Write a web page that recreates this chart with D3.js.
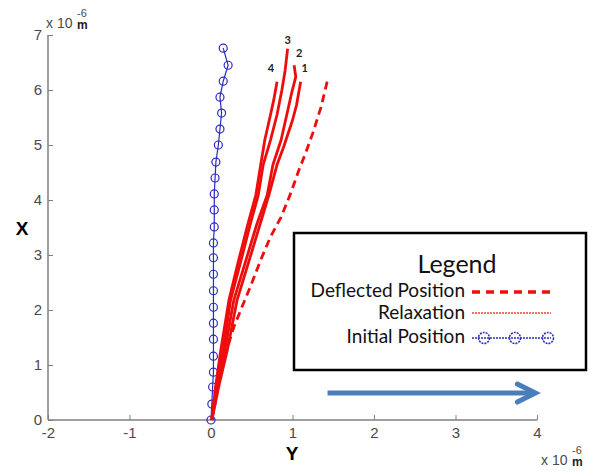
<!DOCTYPE html>
<html><head><meta charset="utf-8">
<script src="https://cdn.jsdelivr.net/npm/d3@7/dist/d3.min.js"></script>
<style>body{margin:0;background:#fff}svg{display:block}</style>
</head><body><svg id="c" width="601" height="472"></svg>
<script>
// ---- data (units of 1e-6 m) ----
const xTicks = [0,1,2,3,4,5,6,7];
const yTicks = [-2,-1,0,1,2,3,4];
const initialY = [0,0.01,0.02,0.03,0.03,0.03,0.03,0.03,0.03,0.03,0.03,0.03,0.04,0.04,0.04,0.05,0.06,0.09,0.11,0.13,0.11,0.15,0.21,0.15];
const initialX = [0,0.29,0.6,0.87,1.16,1.47,1.76,2.05,2.35,2.65,2.95,3.22,3.51,3.82,4.11,4.4,4.69,5.0,5.29,5.58,5.87,6.16,6.45,6.76];
const deflY = [0.01,0.06,0.12,0.2,0.28,0.39,0.49,0.61,0.73,0.86,0.98,1.07,1.16,1.25,1.35,1.43];
const deflX = [0,0.64,1.0,1.31,1.69,2.09,2.45,2.91,3.33,3.69,4.13,4.51,4.85,5.22,5.69,6.18];
const relax1Y = [0.01,0.10,0.20,0.32,0.47,0.60,0.71,0.81,0.89,1.0,1.05,1.10];
const relax1X = [0,0.64,1.27,2.18,2.91,3.55,4.09,4.64,4.96,5.45,5.73,6.15];
const relax2Y = [0.01,0.09,0.17,0.28,0.43,0.56,0.69,0.76,0.86,0.93,0.99,1.04,1.02];
const relax2X = [0,0.64,1.27,2.18,2.91,3.55,4.09,4.64,5.09,5.55,5.95,6.24,6.45];
const relax3Y = [0.01,0.07,0.15,0.24,0.37,0.48,0.58,0.64,0.73,0.81,0.87,0.91,0.94];
const relax3X = [0,0.64,1.27,2.18,2.91,3.55,4.09,4.64,5.09,5.55,6.0,6.36,6.75];
const relax4Y = [0.01,0.06,0.12,0.22,0.34,0.45,0.55,0.61,0.66,0.73,0.77,0.81];
const relax4X = [0,0.64,1.27,2.18,2.91,3.55,4.09,4.64,5.09,5.55,5.82,6.15];
const relaxLabels = ["1","2","3","4"];
const legendLabels = ["Deflected Position","Relaxation","Initial Position"];
const arrowY = [1.43, 3.98]; // horizontal arrow extent in Y units
const arrowX = 0.49;

const svg = d3.select("#c");
const x = d3.scaleLinear().domain([-2,4]).range([48,537]);
const y = d3.scaleLinear().domain([0,7]).range([420,35]);
const axisColor = "#7f7f7f";
const font = "'Liberation Sans', Arial, sans-serif";

// axes
const gx = svg.append("g").attr("transform","translate(0,420)")
  .call(d3.axisBottom(x).tickValues(yTicks).tickSize(-5).tickPadding(7).tickFormat(d=>String(d)));
const gy = svg.append("g").attr("transform","translate(48,0)")
  .call(d3.axisLeft(y).tickValues(xTicks).tickSize(-5).tickPadding(6).tickFormat(d=>String(d)));
[gx,gy].forEach(g=>{
  g.select(".domain").attr("stroke",axisColor).attr("stroke-width",1.5);
  g.selectAll(".tick line").attr("stroke",axisColor).attr("stroke-width",1);
  g.selectAll("text").attr("font-family",font).attr("font-size",15).attr("fill","#4a4a4a");
});
gy.select(".domain").attr("d","M0,420V35");
gx.select(".domain").attr("d","M48,0H537");

// axis labels
svg.append("text").attr("x",292).attr("y",460).attr("text-anchor","middle")
  .attr("font-family",font).attr("font-weight","bold").attr("font-size",19).text("Y");
svg.append("text").attr("x",22).attr("y",235).attr("text-anchor","middle")
  .attr("font-family",font).attr("font-weight","bold").attr("font-size",19).text("X");

function expLabel(px,py){
  const g = svg.append("g").attr("font-family",font).attr("fill","#4a4a4a");
  g.append("text").attr("x",px).attr("y",py).attr("font-size",14).text("x 10");
  g.append("text").attr("x",px+31).attr("y",py-11).attr("font-size",11).text("-6");
  g.append("text").attr("x",px+31).attr("y",py+1).attr("font-size",12).attr("font-weight","bold").attr("fill","#222").text("m");
}
expLabel(46,28);
expLabel(541,465);

// initial position (blue)
const blue = "#2a2ac8";
const initPts = initialX.map((v,i)=>[initialY[i],v]);
svg.append("path").datum(initPts).attr("fill","none").attr("stroke",blue).attr("stroke-width",1.2)
  .attr("d",d3.line().x(d=>x(d[0])).y(d=>y(d[1])));
svg.selectAll("circle.init").data(initPts).join("circle").attr("class","init")
  .attr("cx",d=>x(d[0])).attr("cy",d=>y(d[1])).attr("r",4)
  .attr("fill","none").attr("stroke",blue).attr("stroke-width",1.2);

// relaxation lines
const red = "#ee0d0d";
const relax = [[relax1Y,relax1X],[relax2Y,relax2X],[relax3Y,relax3X],[relax4Y,relax4X]];
const line = d3.line().x(d=>x(d[0])).y(d=>y(d[1])).curve(d3.curveLinear);
relax.forEach(([ys,xs])=>{
  const pts = xs.map((v,i)=>[ys[i],v]);
  svg.append("path").datum(pts).attr("fill","none").attr("stroke",red).attr("stroke-width",2.8)
    .attr("stroke-linejoin","round").attr("d",line);
});
// labels at line tops
const labOff = [[4,-10],[5,-8],[0,-5],[-6,-10]];
relax.forEach(([ys,xs],i)=>{
  const n = xs.length-1;
  svg.append("text").attr("x",x(ys[n])+labOff[i][0]).attr("y",y(xs[n])+labOff[i][1])
    .attr("text-anchor","middle").attr("font-family","Lato, 'Open Sans', sans-serif").attr("font-weight","bold")
    .attr("font-size",11).attr("fill","#222").text(relaxLabels[i]);
});

// deflected (dashed)
const dPts = deflX.map((v,i)=>[deflY[i],v]);
svg.append("path").datum(dPts).attr("fill","none").attr("stroke",red).attr("stroke-width",2.8)
  .attr("stroke-dasharray","8,5").attr("d",line);

// legend
const lg = svg.append("g");
lg.append("rect").attr("x",294).attr("y",233).attr("width",292).attr("height",137)
  .attr("fill","#fff").attr("stroke","#000").attr("stroke-width",2.5);
const lfont = "Lato, 'Open Sans', sans-serif";
lg.append("text").attr("x",457).attr("y",273).attr("text-anchor","middle").attr("font-family",lfont)
  .attr("font-size",25).attr("fill","#111").text("Legend");
const ly = [297,319,343];
legendLabels.forEach((t,i)=>{
  lg.append("text").attr("x",465).attr("y",ly[i]).attr("text-anchor","end").attr("font-family",lfont)
    .attr("font-size",19).attr("fill","#111").text(t);
});
lg.append("line").attr("x1",472).attr("x2",551).attr("y1",292).attr("y2",292)
  .attr("stroke",red).attr("stroke-width",3.5).attr("stroke-dasharray","8,6");
lg.append("line").attr("x1",472).attr("x2",551).attr("y1",313).attr("y2",313)
  .attr("stroke",red).attr("stroke-width",1.5).attr("stroke-dasharray","2,1").attr("opacity",0.8);
lg.append("line").attr("x1",472).attr("x2",551).attr("y1",338).attr("y2",338)
  .attr("stroke",blue).attr("stroke-width",1.3).attr("stroke-dasharray","2,1");
[484,515,548].forEach(cx=>lg.append("circle").attr("cx",cx).attr("cy",338).attr("r",5.5)
  .attr("fill","none").attr("stroke",blue).attr("stroke-width",1.5).attr("stroke-dasharray","2,1"));

// arrow
const arrowColor = "#4a7ebb";
const ay = y(arrowX);
svg.append("line").attr("x1",x(arrowY[0])).attr("x2",x(arrowY[1])-2).attr("y1",ay).attr("y2",ay)
  .attr("stroke",arrowColor).attr("stroke-width",5);
svg.append("path").attr("d",`M${x(arrowY[1])-18},${ay-9}L${x(arrowY[1])},${ay}L${x(arrowY[1])-18},${ay+9}`)
  .attr("fill","none").attr("stroke",arrowColor).attr("stroke-width",5).attr("stroke-linecap","round");
</script></body></html>
